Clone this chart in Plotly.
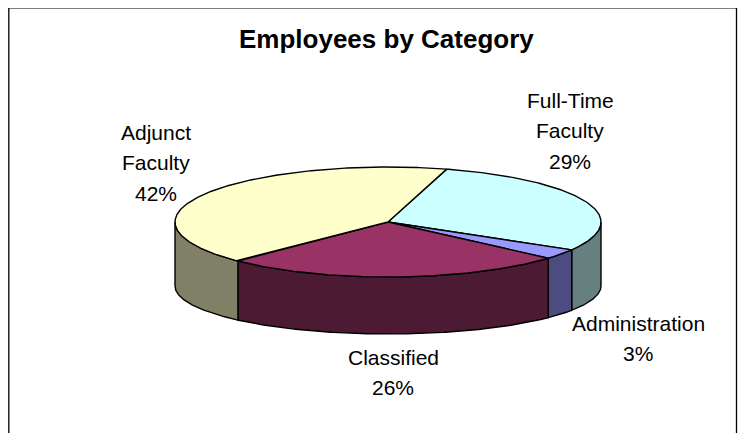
import numpy as np
import plotly.graph_objects as go

# ---- data ----
categories = ["Full-Time Faculty", "Administration", "Classified", "Adjunct Faculty"]
label_lines = [["Full-Time", "Faculty"], ["Administration"], ["Classified"], ["Adjunct", "Faculty"]]
values = [29, 3, 26, 42]
top_colors = ["#CCFFFF", "#9999FF", "#993366", "#FFFFCC"]

# ---- layout / geometry (plot units == page pixels) ----
W, H = 750, 433
PAGE_MARGIN = 8            # default body margin of the html page
CX, CY = 388, 222          # centre of top ellipse
RA, RB = 213, 55           # semi axes of top ellipse
DEPTH, RB_BOT = 64, 48     # offset and minor axis of bottom ellipse (perspective)
START = 74                 # angle (deg, counter-clockwise from 3 o'clock) of first slice edge
LABEL_POS = [(570, 100), (638, 323), (393, 357), (156, 132)]  # first-line centre per label
LINE_PITCH = 30.5
FONT = "Liberation Sans, Arial, sans-serif"


def darker(hexcol, f=0.5):
    h = hexcol.lstrip("#")
    r, g, b = (int(h[i:i + 2], 16) for i in (0, 2, 4))
    return "#%02X%02X%02X" % (round(r * f), round(g * f), round(b * f))


def top_pt(phi):
    r = np.radians(phi)
    return CX + RA * np.cos(r), CY - RB * np.sin(r)


def bot_pt(phi):
    r = np.radians(phi)
    return CX + RA * np.cos(r), CY + DEPTH - RB_BOT * np.sin(r)


total = float(sum(values))
sweeps = [v / total * 360.0 for v in values]
starts = [START - sum(sweeps[:i]) for i in range(len(values))]
ends = [s - w for s, w in zip(starts, sweeps)]

fig = go.Figure()
outline = dict(color="black", width=1.4)

# side walls (front half only)
for i in range(len(values)):
    for k in (-1, 0, 1):
        lo = max(ends[i], -180 + 360 * k)
        hi = min(starts[i], 0 + 360 * k)
        if hi - lo > 1e-6:
            n = max(int((hi - lo) * 2), 4)
            ph_top = np.linspace(hi, lo, n)
            ph_bot = ph_top[::-1]
            xt, yt = top_pt(ph_top)
            xb, yb = bot_pt(ph_bot)
            xs = np.concatenate([xt, xb, xt[:1]])
            ys = np.concatenate([yt, yb, yt[:1]])
            fig.add_trace(go.Scatter(x=xs, y=ys, mode="lines", fill="toself",
                                     fillcolor=darker(top_colors[i]), line=outline,
                                     hoverinfo="skip", showlegend=False))

# top faces
for i in range(len(values)):
    n = max(int(sweeps[i] * 2), 4)
    ph = np.linspace(starts[i], ends[i], n)
    xt, yt = top_pt(ph)
    xs = np.concatenate([[CX], xt, [CX]])
    ys = np.concatenate([[CY], yt, [CY]])
    fig.add_trace(go.Scatter(x=xs, y=ys, mode="lines", fill="toself",
                             fillcolor=top_colors[i], line=outline,
                             hoverinfo="skip", showlegend=False))

# labels
annotations = []
for i in range(len(values)):
    lines = label_lines[i] + ["%d%%" % round(values[i] / total * 100)]
    lx, ly = LABEL_POS[i]
    for j, t in enumerate(lines):
        annotations.append(dict(x=lx, y=ly + j * LINE_PITCH, text=t, showarrow=False,
                                xanchor="center", yanchor="middle",
                                font=dict(family=FONT, size=21, color="black")))

annotations.append(dict(x=386, y=39, text="<b>Employees by Category</b>", showarrow=False,
                        xanchor="center", yanchor="middle",
                        font=dict(family=FONT, size=26, color="black")))

fig.update_layout(
    width=W - PAGE_MARGIN, height=H - PAGE_MARGIN,
    margin=dict(l=0, r=0, t=0, b=0),
    paper_bgcolor="white", plot_bgcolor="white",
    xaxis=dict(range=[PAGE_MARGIN, W], visible=False, fixedrange=True),
    yaxis=dict(range=[H, PAGE_MARGIN], visible=False, fixedrange=True),
    annotations=annotations,
    shapes=[dict(type="rect", x0=8.8, y0=7.8, x1=736.5, y1=H + 20,
                 line=dict(color="black", width=1.3), fillcolor="rgba(0,0,0,0)", layer="below")],
    showlegend=False,
)

fig.write_html("out.html")
